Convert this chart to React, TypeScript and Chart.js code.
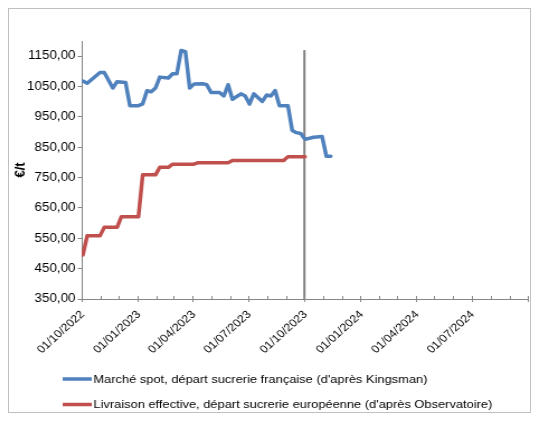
import React, { useEffect, useRef } from 'react';
import { Chart, registerables } from 'chart.js';

Chart.register(...registerables);

// ---------- data ----------
const spotLabel = "Marché spot, départ sucrerie française (d'après Kingsman)";
const spotDates = [
  '2022-10-03', '2022-10-10', '2022-10-31', '2022-11-07', '2022-11-21', '2022-11-28',
  '2022-12-12', '2022-12-19', '2023-01-02', '2023-01-09', '2023-01-16', '2023-01-23',
  '2023-01-30', '2023-02-06', '2023-02-20', '2023-02-27', '2023-03-06', '2023-03-13',
  '2023-03-20', '2023-03-27', '2023-04-03', '2023-04-17', '2023-04-24', '2023-05-01',
  '2023-05-15', '2023-05-22', '2023-05-29', '2023-06-05', '2023-06-19', '2023-06-26',
  '2023-07-03', '2023-07-10', '2023-07-24', '2023-07-31', '2023-08-07', '2023-08-14',
  '2023-08-21', '2023-09-04', '2023-09-11', '2023-09-18', '2023-09-25', '2023-10-02',
  '2023-10-16', '2023-10-30', '2023-11-06', '2023-11-13',
];
const spotValues = [
  1068, 1061, 1096, 1096, 1045, 1066,
  1063, 987, 987, 993, 1036, 1033,
  1045, 1081, 1078, 1092, 1092, 1169,
  1165, 1045, 1058, 1059, 1056, 1030,
  1030, 1019, 1056, 1008, 1026, 1019,
  992, 1026, 1001, 1022, 1019, 1037,
  987, 987, 905, 898, 895, 876,
  883, 885, 820, 820,
];

const livLabel = "Livraison effective, départ sucrerie européenne (d'après Observatoire)";
const livDates = [
  '2022-10-03', '2022-10-10', '2022-10-31', '2022-11-07', '2022-11-28', '2022-12-05',
  '2023-01-02', '2023-01-09', '2023-01-30', '2023-02-06', '2023-02-20', '2023-02-27',
  '2023-04-03', '2023-04-10', '2023-05-29', '2023-06-05', '2023-08-28', '2023-09-04',
  '2023-10-02',
];
const livValues = [
  495, 558, 558, 586, 586, 621,
  621, 759, 759, 784, 784, 794,
  794, 799, 799, 806, 806, 819,
  819,
];

const markerDate = '2023-10-01';
const markerValues = [350, 1170];

const yMin = 350;
const yMax = 1200;
const yTickValues = [350, 450, 550, 650, 750, 850, 950, 1050, 1150];
const yTitle = '€/t';

const xStart = '2022-10-01';
const xEnd = '2024-10-01';
const xTickLabels = [
  '01/10/2022', '01/01/2023', '01/04/2023', '01/07/2023',
  '01/10/2023', '01/01/2024', '01/04/2024', '01/07/2024',
];

// ---------- helpers ----------
const toUTC = (s: string) => {
  const [y, m, d] = s.split('-').map(Number);
  return Date.UTC(y, m - 1, d);
};
const dayOf = (s: string) => (toUTC(s) - toUTC(xStart)) / 86400000;

const monthTicks: number[] = (() => {
  const out: number[] = [];
  const [y0, m0] = xStart.split('-').map(Number);
  const end = dayOf(xEnd);
  for (let i = 0; ; i++) {
    const d = (Date.UTC(y0, m0 - 1 + i, 1) - toUTC(xStart)) / 86400000;
    if (d > end) break;
    out.push(d);
  }
  return out;
})();

const FONT = '"Liberation Sans", Arial, sans-serif';
const AXIS = '#868686';

const extrasPlugin = {
  id: 'extras',
  afterDraw(chart: any) {
    const ctx = chart.ctx;
    const xs = chart.scales.x;
    const area = chart.chartArea;
    ctx.save();
    // x-axis tick marks (minor inside, major crossing)
    ctx.strokeStyle = AXIS;
    ctx.lineWidth = 1;
    monthTicks.forEach((d, i) => {
      const px = Math.round(xs.getPixelForValue(d)) + 0.5;
      ctx.beginPath();
      ctx.moveTo(px, area.bottom - 3);
      ctx.lineTo(px, area.bottom + (i % 3 === 0 ? 3 : 0));
      ctx.stroke();
    });
    // legend
    const rows = [370, 395.5];
    ctx.font = `11.5px ${FONT}`;
    ctx.textBaseline = 'middle';
    ctx.textAlign = 'left';
    [0, 1].forEach((i) => {
      const ds = chart.data.datasets[i];
      const y = rows[i];
      ctx.strokeStyle = ds.borderColor;
      ctx.lineWidth = 3.5;
      ctx.lineCap = 'butt';
      ctx.beginPath();
      ctx.moveTo(48, y);
      ctx.lineTo(74, y);
      ctx.stroke();
      ctx.fillStyle = '#000';
      ctx.fillText(ds.label, 75.5, y + 0.5);
    });
    ctx.restore();
  },
};

export default function App() {
  const ref = useRef<HTMLCanvasElement | null>(null);

  useEffect(() => {
    if (!ref.current) return;
    const chart = new Chart(ref.current, {
      type: 'line',
      data: {
        datasets: [
          {
            label: spotLabel,
            data: spotDates.map((d, i) => ({ x: dayOf(d), y: spotValues[i] })),
            borderColor: '#4F81BD',
            backgroundColor: '#4F81BD',
            borderWidth: 3.5,
            pointRadius: 0,
            tension: 0,
            borderJoinStyle: 'round',
            borderCapStyle: 'round',
            order: 0,
          },
          {
            label: livLabel,
            data: livDates.map((d, i) => ({ x: dayOf(d), y: livValues[i] })),
            borderColor: '#C0504D',
            backgroundColor: '#C0504D',
            borderWidth: 3.5,
            pointRadius: 0,
            tension: 0,
            borderJoinStyle: 'round',
            borderCapStyle: 'round',
            order: 1,
          },
          {
            label: 'marker',
            data: markerValues.map((v) => ({ x: dayOf(markerDate), y: v })),
            borderColor: '#7F7F7F',
            borderWidth: 2,
            pointRadius: 0,
            order: 2,
          },
        ],
      },
      options: {
        responsive: false,
        animation: false,
        devicePixelRatio: 1,
        layout: { padding: { left: 0, right: 2, top: 32, bottom: 53 } },
        plugins: {
          legend: { display: false },
          tooltip: { enabled: false },
        },
        scales: {
          x: {
            type: 'linear',
            min: 0,
            max: dayOf(xEnd),
            afterBuildTicks: (s: any) => {
              s.ticks = monthTicks.map((v) => ({ value: v }));
            },
            afterFit: (s: any) => {
              s.height = 60;
              s.paddingRight = 0;
            },
            ticks: {
              autoSkip: false,
              minRotation: 45,
              maxRotation: 45,
              padding: 9,
              labelOffset: 1,
              color: '#000',
              font: { family: FONT, size: 11 },
              callback: (_v: any, i: number) =>
                i % 3 === 0 && i / 3 < xTickLabels.length ? xTickLabels[i / 3] : '',
            },
            grid: { display: false, drawTicks: false, tickLength: 0 },
            border: { color: AXIS, width: 1 },
          },
          y: {
            type: 'linear',
            min: yMin,
            max: yMax,
            afterBuildTicks: (s: any) => {
              s.ticks = yTickValues.map((v) => ({ value: v }));
            },
            afterFit: (s: any) => {
              s.width = 65;
            },
            ticks: {
              padding: 2,
              color: '#000',
              font: { family: FONT, size: 12 },
              callback: (v: any) => Number(v).toFixed(2).replace('.', ','),
            },
            grid: { drawOnChartArea: false, drawTicks: true, tickLength: 3.5, color: AXIS },
            border: { color: AXIS, width: 1 },
            title: {
              display: true,
              text: yTitle,
              color: '#000',
              font: { family: FONT, size: 13, weight: 'bold' },
              padding: { top: 3, bottom: 0 },
            },
          },
        },
      },
      plugins: [extrasPlugin],
    } as any);
    return () => chart.destroy();
  }, []);

  return (
    <div
      style={{
        width: 523,
        height: 405,
        border: '1px solid #BFBFBF',
        boxSizing: 'border-box',
        background: '#fff',
      }}
    >
      <canvas
        ref={ref}
        width={466}
        height={403}
        style={{ width: '521px', height: '403px', display: 'block' }}
      />
    </div>
  );
}
